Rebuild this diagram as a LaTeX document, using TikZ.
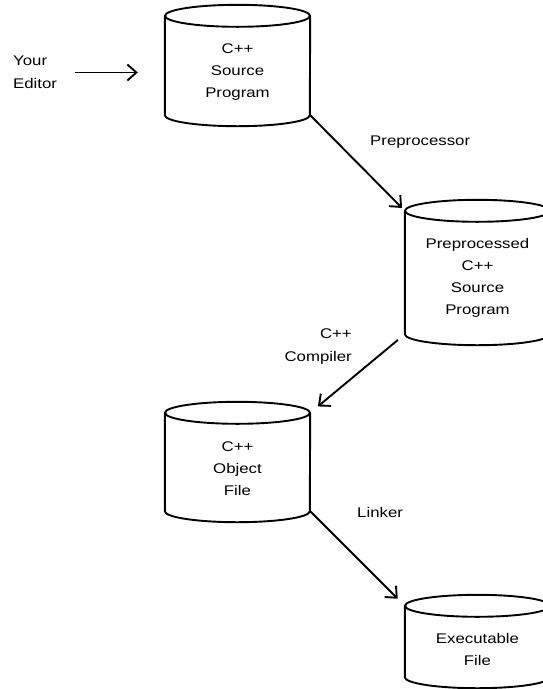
\documentclass[tikz,border=0pt]{standalone}
\usepackage{fontspec}
\setmainfont[FakeStretch=1.2]{Liberation Sans}
\usepackage{tikz}
\usetikzlibrary{positioning, arrows.meta, calc}
\tikzstyle{disk}=[%
      rectangle, draw=none, inner sep=0pt, minimum width=145pt
]
\tikzstyle{txt}=[%
      align=center, inner sep=0pt, font=\fontsize{14pt}{22pt}\selectfont
]
\tikzstyle{lbl}=[%
      inner sep=0pt, font=\fontsize{14pt}{23pt}\selectfont
]
\tikzstyle{rim}=[%
      draw=black, line width=1.9pt, line join=round
]
\tikzstyle{flow}=[%
      draw=black, line width=1.9pt, -{Straight Barb[length=9pt,width=16pt,line width=1.9pt]}
]
% outline of a disk node: top ellipse, sides and lower arc
\newcommand{\diskshape}[1]{%
  \draw[rim] (#1.north) ellipse[x radius=72.5pt, y radius=11pt];
  \draw[rim] (#1.north west) -- (#1.south west)
    arc[start angle=180, end angle=360, x radius=72.5pt, y radius=11pt]
    -- (#1.north east);
}
\begin{document}
\begin{tikzpicture}[x=1pt, y=-1pt]
    \useasboundingbox[fill=white] (0,0) rectangle (542,689);

    \node[disk, minimum height=99pt]  (src) at (237.5,65.5) {};
    \node[disk, minimum height=123pt] (pre) at (477.5,272.5) {};
    \node[disk, minimum height=98pt]  (obj) at (237.5,462) {};
    \node[disk, minimum height=71pt]  (exe) at (477.5,641.5) {};
    \diskshape{src}
    \diskshape{pre}
    \diskshape{obj}
    \diskshape{exe}

    \node[txt] (srctxt) at ([yshift=-7pt]src) {C++\\Source\\Program};
    \node[txt] (pretxt) at ([yshift=-5pt]pre) {Preprocessed\\C++\\Source\\Program};
    \node[txt] (objtxt) at ([yshift=-7pt]obj) {C++\\Object\\File};
    \node[txt] (exetxt) at ([yshift=-8pt]exe) {Executable\\File};

    \node[lbl, align=left, anchor=west] (editor) at (13,72.5) {Your\\Editor};
    \node[lbl, anchor=west] (pp) at (370,142) {Preprocessor};
    \node[lbl, align=right, anchor=east] (cc) at (352,346.5) {C++\\Compiler};
    \node[lbl, anchor=west] (ld) at (357,512) {Linker};

    \path[flow] (editor.east) [shorten <=18pt, shorten >=27pt] -- (editor.east -| src.west);
    \path[flow] (src.south east) [shorten >=4pt] -- (pre.north west);
    \path[flow] (pre.south west) [shorten <=9pt, shorten >=10pt] -- (obj.north east);
    \path[flow] (obj.south east) [shorten >=10pt] -- (exe.north west);
  \end{tikzpicture}
\end{document}
